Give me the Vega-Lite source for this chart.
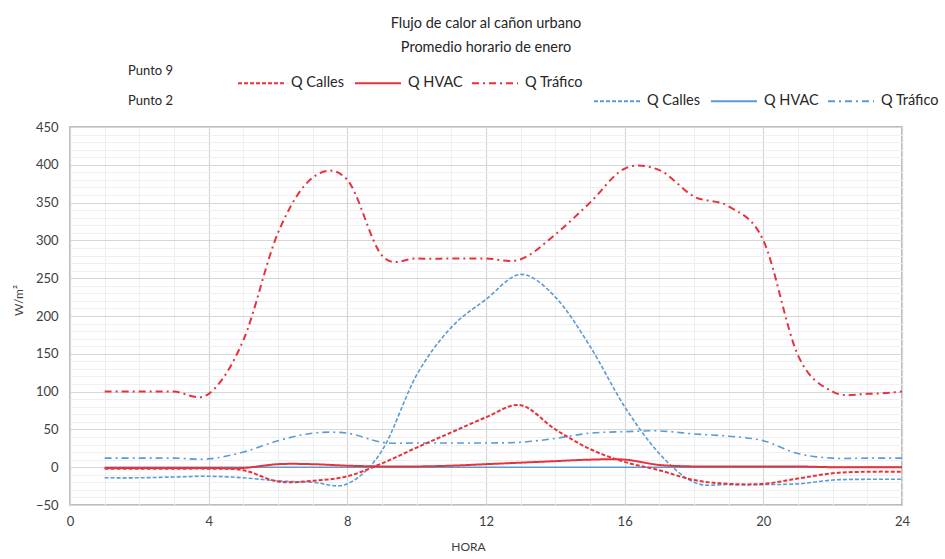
{
  "$schema": "https://vega.github.io/schema/vega-lite/v6.json",
  "width": 832,
  "height": 378,
  "autosize": {"type": "none"},
  "padding": {"left": 70, "top": 127, "right": 43, "bottom": 54},
  "background": "white",
  "config": {"font": "Lato", "view": {"stroke": "#a6a6a6", "strokeWidth": 1.5}},
  "title": {
    "text": ["Flujo de calor al cañon urbano", "Promedio horario de enero"],
    "fontSize": 14.5,
    "fontWeight": "normal",
    "color": "#262626",
    "anchor": "middle",
    "lineHeight": 24,
    "offset": 4
  },
  "data": {
    "values": [
      {"hora": 1, "punto": "Punto 9", "serie": "Q Calles", "valor": -2},
      {"hora": 2, "punto": "Punto 9", "serie": "Q Calles", "valor": -2},
      {"hora": 3, "punto": "Punto 9", "serie": "Q Calles", "valor": -2},
      {"hora": 4, "punto": "Punto 9", "serie": "Q Calles", "valor": -2},
      {"hora": 5, "punto": "Punto 9", "serie": "Q Calles", "valor": -4},
      {"hora": 6, "punto": "Punto 9", "serie": "Q Calles", "valor": -19},
      {"hora": 7, "punto": "Punto 9", "serie": "Q Calles", "valor": -18},
      {"hora": 8, "punto": "Punto 9", "serie": "Q Calles", "valor": -12},
      {"hora": 9, "punto": "Punto 9", "serie": "Q Calles", "valor": 5},
      {"hora": 10, "punto": "Punto 9", "serie": "Q Calles", "valor": 26},
      {"hora": 11, "punto": "Punto 9", "serie": "Q Calles", "valor": 46},
      {"hora": 12, "punto": "Punto 9", "serie": "Q Calles", "valor": 66},
      {"hora": 13, "punto": "Punto 9", "serie": "Q Calles", "valor": 82},
      {"hora": 14, "punto": "Punto 9", "serie": "Q Calles", "valor": 50},
      {"hora": 15, "punto": "Punto 9", "serie": "Q Calles", "valor": 24},
      {"hora": 16, "punto": "Punto 9", "serie": "Q Calles", "valor": 7},
      {"hora": 17, "punto": "Punto 9", "serie": "Q Calles", "valor": -4},
      {"hora": 18, "punto": "Punto 9", "serie": "Q Calles", "valor": -17},
      {"hora": 19, "punto": "Punto 9", "serie": "Q Calles", "valor": -22},
      {"hora": 20, "punto": "Punto 9", "serie": "Q Calles", "valor": -22},
      {"hora": 21, "punto": "Punto 9", "serie": "Q Calles", "valor": -15},
      {"hora": 22, "punto": "Punto 9", "serie": "Q Calles", "valor": -8},
      {"hora": 23, "punto": "Punto 9", "serie": "Q Calles", "valor": -6},
      {"hora": 24, "punto": "Punto 9", "serie": "Q Calles", "valor": -6},
      {"hora": 1, "punto": "Punto 9", "serie": "Q HVAC", "valor": -1},
      {"hora": 2, "punto": "Punto 9", "serie": "Q HVAC", "valor": -1},
      {"hora": 3, "punto": "Punto 9", "serie": "Q HVAC", "valor": -1},
      {"hora": 4, "punto": "Punto 9", "serie": "Q HVAC", "valor": -1},
      {"hora": 5, "punto": "Punto 9", "serie": "Q HVAC", "valor": -1},
      {"hora": 6, "punto": "Punto 9", "serie": "Q HVAC", "valor": 4},
      {"hora": 7, "punto": "Punto 9", "serie": "Q HVAC", "valor": 4},
      {"hora": 8, "punto": "Punto 9", "serie": "Q HVAC", "valor": 2},
      {"hora": 9, "punto": "Punto 9", "serie": "Q HVAC", "valor": 1},
      {"hora": 10, "punto": "Punto 9", "serie": "Q HVAC", "valor": 1},
      {"hora": 11, "punto": "Punto 9", "serie": "Q HVAC", "valor": 2},
      {"hora": 12, "punto": "Punto 9", "serie": "Q HVAC", "valor": 4},
      {"hora": 13, "punto": "Punto 9", "serie": "Q HVAC", "valor": 6},
      {"hora": 14, "punto": "Punto 9", "serie": "Q HVAC", "valor": 8},
      {"hora": 15, "punto": "Punto 9", "serie": "Q HVAC", "valor": 10},
      {"hora": 16, "punto": "Punto 9", "serie": "Q HVAC", "valor": 10},
      {"hora": 17, "punto": "Punto 9", "serie": "Q HVAC", "valor": 3},
      {"hora": 18, "punto": "Punto 9", "serie": "Q HVAC", "valor": 1},
      {"hora": 19, "punto": "Punto 9", "serie": "Q HVAC", "valor": 1},
      {"hora": 20, "punto": "Punto 9", "serie": "Q HVAC", "valor": 1},
      {"hora": 21, "punto": "Punto 9", "serie": "Q HVAC", "valor": 1},
      {"hora": 22, "punto": "Punto 9", "serie": "Q HVAC", "valor": 0},
      {"hora": 23, "punto": "Punto 9", "serie": "Q HVAC", "valor": 0},
      {"hora": 24, "punto": "Punto 9", "serie": "Q HVAC", "valor": 0},
      {"hora": 1, "punto": "Punto 9", "serie": "Q Tráfico", "valor": 100},
      {"hora": 2, "punto": "Punto 9", "serie": "Q Tráfico", "valor": 100},
      {"hora": 3, "punto": "Punto 9", "serie": "Q Tráfico", "valor": 100},
      {"hora": 4, "punto": "Punto 9", "serie": "Q Tráfico", "valor": 97},
      {"hora": 5, "punto": "Punto 9", "serie": "Q Tráfico", "valor": 168},
      {"hora": 6, "punto": "Punto 9", "serie": "Q Tráfico", "valor": 310},
      {"hora": 7, "punto": "Punto 9", "serie": "Q Tráfico", "valor": 383},
      {"hora": 8, "punto": "Punto 9", "serie": "Q Tráfico", "valor": 380},
      {"hora": 9, "punto": "Punto 9", "serie": "Q Tráfico", "valor": 280},
      {"hora": 10, "punto": "Punto 9", "serie": "Q Tráfico", "valor": 276},
      {"hora": 11, "punto": "Punto 9", "serie": "Q Tráfico", "valor": 276},
      {"hora": 12, "punto": "Punto 9", "serie": "Q Tráfico", "valor": 276},
      {"hora": 13, "punto": "Punto 9", "serie": "Q Tráfico", "valor": 275},
      {"hora": 14, "punto": "Punto 9", "serie": "Q Tráfico", "valor": 308},
      {"hora": 15, "punto": "Punto 9", "serie": "Q Tráfico", "valor": 350},
      {"hora": 16, "punto": "Punto 9", "serie": "Q Tráfico", "valor": 395},
      {"hora": 17, "punto": "Punto 9", "serie": "Q Tráfico", "valor": 393},
      {"hora": 18, "punto": "Punto 9", "serie": "Q Tráfico", "valor": 358},
      {"hora": 19, "punto": "Punto 9", "serie": "Q Tráfico", "valor": 345},
      {"hora": 20, "punto": "Punto 9", "serie": "Q Tráfico", "valor": 300},
      {"hora": 21, "punto": "Punto 9", "serie": "Q Tráfico", "valor": 148},
      {"hora": 22, "punto": "Punto 9", "serie": "Q Tráfico", "valor": 100},
      {"hora": 23, "punto": "Punto 9", "serie": "Q Tráfico", "valor": 97},
      {"hora": 24, "punto": "Punto 9", "serie": "Q Tráfico", "valor": 100},
      {"hora": 1, "punto": "Punto 2", "serie": "Q Calles", "valor": -14},
      {"hora": 2, "punto": "Punto 2", "serie": "Q Calles", "valor": -14},
      {"hora": 3, "punto": "Punto 2", "serie": "Q Calles", "valor": -13},
      {"hora": 4, "punto": "Punto 2", "serie": "Q Calles", "valor": -12},
      {"hora": 5, "punto": "Punto 2", "serie": "Q Calles", "valor": -14},
      {"hora": 6, "punto": "Punto 2", "serie": "Q Calles", "valor": -18},
      {"hora": 7, "punto": "Punto 2", "serie": "Q Calles", "valor": -20},
      {"hora": 8, "punto": "Punto 2", "serie": "Q Calles", "valor": -22},
      {"hora": 9, "punto": "Punto 2", "serie": "Q Calles", "valor": 22},
      {"hora": 10, "punto": "Punto 2", "serie": "Q Calles", "valor": 122},
      {"hora": 11, "punto": "Punto 2", "serie": "Q Calles", "valor": 185},
      {"hora": 12, "punto": "Punto 2", "serie": "Q Calles", "valor": 222},
      {"hora": 13, "punto": "Punto 2", "serie": "Q Calles", "valor": 255},
      {"hora": 14, "punto": "Punto 2", "serie": "Q Calles", "valor": 225},
      {"hora": 15, "punto": "Punto 2", "serie": "Q Calles", "valor": 160},
      {"hora": 16, "punto": "Punto 2", "serie": "Q Calles", "valor": 80},
      {"hora": 17, "punto": "Punto 2", "serie": "Q Calles", "valor": 18},
      {"hora": 18, "punto": "Punto 2", "serie": "Q Calles", "valor": -20},
      {"hora": 19, "punto": "Punto 2", "serie": "Q Calles", "valor": -23},
      {"hora": 20, "punto": "Punto 2", "serie": "Q Calles", "valor": -23},
      {"hora": 21, "punto": "Punto 2", "serie": "Q Calles", "valor": -22},
      {"hora": 22, "punto": "Punto 2", "serie": "Q Calles", "valor": -17},
      {"hora": 23, "punto": "Punto 2", "serie": "Q Calles", "valor": -16},
      {"hora": 24, "punto": "Punto 2", "serie": "Q Calles", "valor": -16},
      {"hora": 1, "punto": "Punto 2", "serie": "Q HVAC", "valor": 0},
      {"hora": 2, "punto": "Punto 2", "serie": "Q HVAC", "valor": 0},
      {"hora": 3, "punto": "Punto 2", "serie": "Q HVAC", "valor": 0},
      {"hora": 4, "punto": "Punto 2", "serie": "Q HVAC", "valor": 0},
      {"hora": 5, "punto": "Punto 2", "serie": "Q HVAC", "valor": 0},
      {"hora": 6, "punto": "Punto 2", "serie": "Q HVAC", "valor": 0},
      {"hora": 7, "punto": "Punto 2", "serie": "Q HVAC", "valor": 0},
      {"hora": 8, "punto": "Punto 2", "serie": "Q HVAC", "valor": 0},
      {"hora": 9, "punto": "Punto 2", "serie": "Q HVAC", "valor": 0},
      {"hora": 10, "punto": "Punto 2", "serie": "Q HVAC", "valor": 0},
      {"hora": 11, "punto": "Punto 2", "serie": "Q HVAC", "valor": 0},
      {"hora": 12, "punto": "Punto 2", "serie": "Q HVAC", "valor": 0},
      {"hora": 13, "punto": "Punto 2", "serie": "Q HVAC", "valor": 0},
      {"hora": 14, "punto": "Punto 2", "serie": "Q HVAC", "valor": 0},
      {"hora": 15, "punto": "Punto 2", "serie": "Q HVAC", "valor": 0},
      {"hora": 16, "punto": "Punto 2", "serie": "Q HVAC", "valor": 0},
      {"hora": 17, "punto": "Punto 2", "serie": "Q HVAC", "valor": 0},
      {"hora": 18, "punto": "Punto 2", "serie": "Q HVAC", "valor": 0},
      {"hora": 19, "punto": "Punto 2", "serie": "Q HVAC", "valor": 0},
      {"hora": 20, "punto": "Punto 2", "serie": "Q HVAC", "valor": 0},
      {"hora": 21, "punto": "Punto 2", "serie": "Q HVAC", "valor": 0},
      {"hora": 22, "punto": "Punto 2", "serie": "Q HVAC", "valor": 0},
      {"hora": 23, "punto": "Punto 2", "serie": "Q HVAC", "valor": 0},
      {"hora": 24, "punto": "Punto 2", "serie": "Q HVAC", "valor": 0},
      {"hora": 1, "punto": "Punto 2", "serie": "Q Tráfico", "valor": 12},
      {"hora": 2, "punto": "Punto 2", "serie": "Q Tráfico", "valor": 12},
      {"hora": 3, "punto": "Punto 2", "serie": "Q Tráfico", "valor": 12},
      {"hora": 4, "punto": "Punto 2", "serie": "Q Tráfico", "valor": 11},
      {"hora": 5, "punto": "Punto 2", "serie": "Q Tráfico", "valor": 20},
      {"hora": 6, "punto": "Punto 2", "serie": "Q Tráfico", "valor": 35},
      {"hora": 7, "punto": "Punto 2", "serie": "Q Tráfico", "valor": 45},
      {"hora": 8, "punto": "Punto 2", "serie": "Q Tráfico", "valor": 45},
      {"hora": 9, "punto": "Punto 2", "serie": "Q Tráfico", "valor": 33},
      {"hora": 10, "punto": "Punto 2", "serie": "Q Tráfico", "valor": 32},
      {"hora": 11, "punto": "Punto 2", "serie": "Q Tráfico", "valor": 32},
      {"hora": 12, "punto": "Punto 2", "serie": "Q Tráfico", "valor": 32},
      {"hora": 13, "punto": "Punto 2", "serie": "Q Tráfico", "valor": 33},
      {"hora": 14, "punto": "Punto 2", "serie": "Q Tráfico", "valor": 38},
      {"hora": 15, "punto": "Punto 2", "serie": "Q Tráfico", "valor": 45},
      {"hora": 16, "punto": "Punto 2", "serie": "Q Tráfico", "valor": 47},
      {"hora": 17, "punto": "Punto 2", "serie": "Q Tráfico", "valor": 48},
      {"hora": 18, "punto": "Punto 2", "serie": "Q Tráfico", "valor": 44},
      {"hora": 19, "punto": "Punto 2", "serie": "Q Tráfico", "valor": 41},
      {"hora": 20, "punto": "Punto 2", "serie": "Q Tráfico", "valor": 35},
      {"hora": 21, "punto": "Punto 2", "serie": "Q Tráfico", "valor": 18},
      {"hora": 22, "punto": "Punto 2", "serie": "Q Tráfico", "valor": 12},
      {"hora": 23, "punto": "Punto 2", "serie": "Q Tráfico", "valor": 12},
      {"hora": 24, "punto": "Punto 2", "serie": "Q Tráfico", "valor": 12}
    ]
  },
  "encoding": {
    "x": {
      "field": "hora",
      "type": "quantitative",
      "scale": {"domain": [0, 24], "nice": false, "zero": false},
      "axis": {
        "values": [0, 1, 2, 3, 4, 5, 6, 7, 8, 9, 10, 11, 12, 13, 14, 15, 16, 17, 18, 19, 20, 21, 22, 23, 24],
        "grid": true,
        "gridColor": {"condition": {"test": "datum.value % 4 === 0", "value": "#d6d6d6"}, "value": "#efefef"},
        "gridWidth": 1.2,
        "ticks": false,
        "domain": false,
        "labelExpr": "datum.value % 4 === 0 ? datum.label : ''",
        "labelOverlap": false,
        "labelFlush": false,
        "labelFontSize": 13,
        "labelColor": "#404040",
        "labelPadding": 10,
        "title": "HORA",
        "titleFontSize": 12,
        "titleFontWeight": "normal",
        "titleColor": "#404040",
        "titleX": 398,
        "titleY": 36,
        "titleAlign": "center"
      }
    },
    "y": {
      "field": "valor",
      "type": "quantitative",
      "scale": {"domain": [-50, 450], "nice": false, "zero": false},
      "axis": {
        "values": [-50, -40, -30, -20, -10, 0, 10, 20, 30, 40, 50, 60, 70, 80, 90, 100, 110, 120, 130, 140, 150, 160, 170, 180, 190, 200, 210, 220, 230, 240, 250, 260, 270, 280, 290, 300, 310, 320, 330, 340, 350, 360, 370, 380, 390, 400, 410, 420, 430, 440, 450],
        "grid": true,
        "gridColor": {"condition": {"test": "datum.value % 50 === 0", "value": "#d6d6d6"}, "value": "#efefef"},
        "gridWidth": 1.2,
        "ticks": false,
        "domain": false,
        "labelExpr": "datum.value % 50 === 0 ? datum.label : ''",
        "labelOverlap": false,
        "labelFlush": false,
        "labelFontSize": 13,
        "labelColor": "#404040",
        "labelPadding": 12,
        "title": "W/m²",
        "titleFontSize": 12,
        "titleFontWeight": "normal",
        "titleColor": "#404040",
        "titleX": -45,
        "titleY": 173,
        "titleAngle": -90,
        "titleAlign": "center"
      }
    }
  },
  "layer": [
    {
      "transform": [{"filter": "datum.punto === 'Punto 2'"}],
      "mark": {"type": "line", "interpolate": "cardinal", "tension": 0, "color": "#5b9bd5", "strokeWidth": 1.6},
      "encoding": {
        "strokeDash": {
          "field": "serie",
          "type": "nominal",
          "scale": {"domain": ["Q Calles", "Q HVAC", "Q Tráfico"], "range": [[4, 2], [1, 0], [7, 4, 2, 4]]},
          "legend": {
            "orient": "none",
            "legendX": 58,
            "legendY": -50,
            "direction": "horizontal",
            "columns": 3,
            "gridAlign": "all",
            "columnPadding": 2,
            "title": "Punto 2",
            "titleOrient": "left",
            "titleAnchor": "start",
            "titleBaseline": "line-top",
            "titleLineHeight": 49,
            "titleFontSize": 13,
            "titleFontWeight": "normal",
            "titleColor": "#262626",
            "titlePadding": 419,
            "labelFontSize": 14.5,
            "labelColor": "#262626",
            "labelOffset": 6,
            "symbolType": "stroke",
            "symbolSize": 2116,
            "symbolStrokeColor": "#5b9bd5",
            "symbolStrokeWidth": 1.8
          }
        }
      }
    },
    {
      "transform": [{"filter": "datum.punto === 'Punto 9'"}],
      "mark": {"type": "line", "interpolate": "cardinal", "tension": 0, "color": "#e8323a", "strokeWidth": 2},
      "encoding": {
        "strokeDash": {
          "field": "serie",
          "type": "nominal",
          "scale": {"domain": ["Q Calles", "Q HVAC", "Q Tráfico"], "range": [[4, 2], [1, 0], [7, 4, 2, 4]]},
          "legend": {
            "orient": "none",
            "legendX": 58,
            "legendY": -68,
            "direction": "horizontal",
            "columns": 3,
            "gridAlign": "all",
            "columnPadding": 2,
            "title": "Punto 9",
            "titleOrient": "left",
            "titleAnchor": "start",
            "titleBaseline": "line-top",
            "titleLineHeight": 24,
            "titleFontSize": 13,
            "titleFontWeight": "normal",
            "titleColor": "#262626",
            "titlePadding": 63,
            "labelFontSize": 14.5,
            "labelColor": "#262626",
            "labelOffset": 6,
            "symbolType": "stroke",
            "symbolSize": 2116,
            "symbolStrokeColor": "#e8323a",
            "symbolStrokeWidth": 2
          }
        }
      }
    }
  ],
  "resolve": {"scale": {"strokeDash": "independent"}}
}
